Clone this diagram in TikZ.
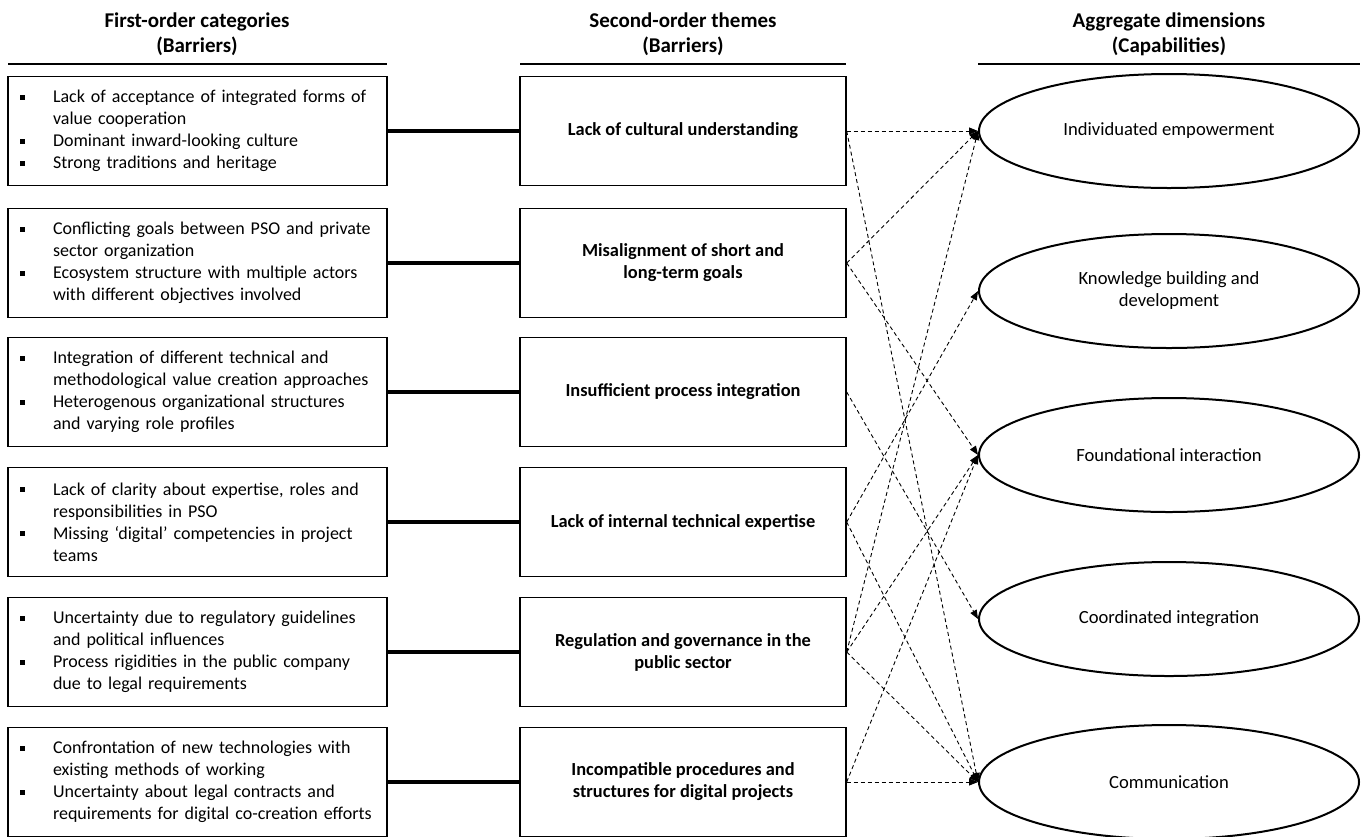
\documentclass[tikz,border=0pt]{standalone}
\usepackage{fontspec}
\setmainfont{Carlito}
\usetikzlibrary{shapes.geometric,arrows.meta}
\newcommand\bul{\hspace*{3pt}\makebox[16.5pt][l]{\rule[1.6pt]{2.4pt}{2.4pt}}}
\newcommand\cont{\hspace*{19.5pt}}
\begin{document}
\begin{tikzpicture}[x=0.5pt,y=-0.5pt,
 leftbox/.style={draw, line width=0.7pt, minimum width=189.5pt, minimum height=54.5pt, inner xsep=3pt, text width=183.5pt, align=left, font=\fontsize{9}{11}\selectfont},
 midbox/.style={draw, line width=0.7pt, minimum width=163pt, minimum height=54.5pt, align=center, font=\bfseries\fontsize{9.2}{11}\selectfont},
 dim/.style={ellipse, draw, line width=1pt, minimum width=190pt, minimum height=57pt, inner sep=0pt, align=center, font=\fontsize{9.3}{11}\selectfont},
 head/.style={align=center, font=\bfseries\fontsize{10.5}{12.5}\selectfont},
 headrule/.style={line width=1.4pt},
 solidlink/.style={line width=2.2pt},
 link/.style={dash pattern=on 2pt off 1.5pt, line width=0.45pt, -{Triangle[length=4.5pt,width=3.5pt]}}
]
\useasboundingbox (0,0) rectangle (1368,836);

% headers
\node[head] (h1) at (197,34) {First-order categories\\(Barriers)};
\node[head] (h2) at (683,34) {Second-order themes\\(Barriers)};
\node[head] (h3) at (1169,34) {Aggregate dimensions\\(Capabilities)};
\coordinate (r1a) at (8,64); \coordinate (r1b) at (387,64);
\coordinate (r2a) at (520,64); \coordinate (r2b) at (846,64);
\coordinate (r3a) at (978,64); \coordinate (r3b) at (1360,64);
\draw[headrule] (r1a) -- (r1b);
\draw[headrule] (r2a) -- (r2b);
\draw[headrule] (r3a) -- (r3b);

% left boxes
\node[leftbox] (l1) at (197.5,131) {\bul Lack of acceptance of integrated forms of\\\cont value cooperation\\\bul Dominant inward-looking culture\\\bul Strong traditions and heritage};
\node[leftbox] (l2) at (197.5,263) {\bul Conflicting goals between PSO and private\\\cont sector organization\\\bul Ecosystem structure with multiple actors\\\cont with different objectives involved};
\node[leftbox] (l3) at (197.5,392) {\bul Integration of different technical and\\\cont methodological value creation approaches\\\bul Heterogenous organizational structures\\\cont and varying role profiles};
\node[leftbox] (l4) at (197.5,522) {\bul Lack of clarity about expertise, roles and\\\cont responsibilities in PSO\\\bul Missing ‘digital’ competencies in project\\\cont teams};
\node[leftbox] (l5) at (197.5,652) {\bul Uncertainty due to regulatory guidelines\\\cont and political influences\\\bul Process rigidities in the public company\\\cont due to legal requirements};
\node[leftbox] (l6) at (197.5,782) {\bul Confrontation of new technologies with\\\cont existing methods of working\\\bul Uncertainty about legal contracts and\\\cont requirements for digital co-creation efforts};

% middle boxes
\node[midbox] (m1) at (683,131) {Lack of cultural understanding};
\node[midbox] (m2) at (683,263) {Misalignment of short and\\long-term goals};
\node[midbox] (m3) at (683,392) {Insufficient process integration};
\node[midbox] (m4) at (683,522) {Lack of internal technical expertise};
\node[midbox] (m5) at (683,652) {Regulation and governance in the\\public sector};
\node[midbox] (m6) at (683,782) {Incompatible procedures and\\structures for digital projects};

% ellipses
\node[dim] (e1) at (1169,131) {Individuated empowerment};
\node[dim] (e2) at (1169,291) {Knowledge building and\\development};
\node[dim] (e3) at (1169,455) {Foundational interaction};
\node[dim] (e4) at (1169,619) {Coordinated integration};
\node[dim] (e5) at (1169,782) {Communication};

% solid links
\foreach \i in {1,...,6} \draw[solidlink] (l\i.east) -- (m\i.west);

% dashed links
\draw[link] (m1.east) -- (e1.west);
\draw[link] (m1.east) -- (e5.west);
\draw[link] (m2.east) -- (e1.west);
\draw[link] (m2.east) -- (e3.west);
\draw[link] (m3.east) -- (e4.west);
\draw[link] (m4.east) -- (e2.west);
\draw[link] (m4.east) -- (e5.west);
\draw[link] (m5.east) -- (e1.west);
\draw[link] (m5.east) -- (e3.west);
\draw[link] (m5.east) -- (e5.west);
\draw[link] (m6.east) -- (e3.west);
\draw[link] (m6.east) -- (e5.west);
\end{tikzpicture}
\end{document}
